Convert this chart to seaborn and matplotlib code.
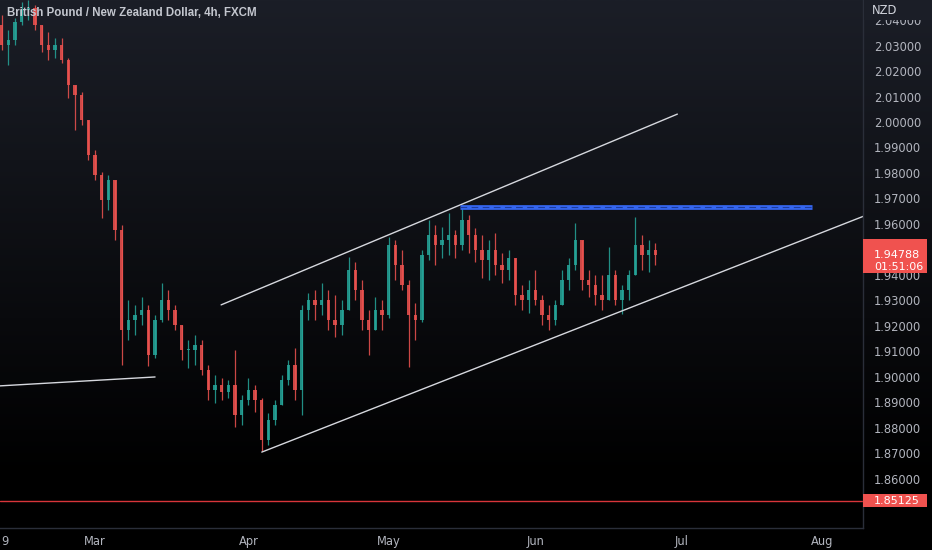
import numpy as np
import pandas as pd
import matplotlib
matplotlib.use("Agg")
import matplotlib.pyplot as plt
import matplotlib.transforms as mtransforms
from matplotlib.patches import Rectangle
import seaborn as sns

# GBPNZD, one bar per trading day (7 Feb - 28 Jun 2022)
start_day = "2022-02-07"
first_open = 2.0340
highs = [2.0381, 2.0420, 2.0420, 2.0361, 2.0408, 2.0471, 2.0479, 2.0459, 2.0381, 2.0353,
         2.0330, 2.0330, 2.0251, 2.0134, 2.0118, 2.0008, 1.9890, 1.9804, 1.9792, 1.9772,
         1.9596, 1.9301, 1.9282, 1.9313, 1.9282, 1.9242, 1.9368, 1.9340, 1.9282, 1.9203,
         1.9144, 1.9164, 1.9144, 1.9046, 1.9007, 1.8995, 1.8987, 1.9105, 1.8928, 1.8995,
         1.8968, 1.8916, 1.8858, 1.8909, 1.9007, 1.9066, 1.9113, 1.9282, 1.9329, 1.9340,
         1.9368, 1.9340, 1.9321, 1.9301, 1.9470, 1.9450, 1.9380, 1.9262, 1.9313, 1.9301,
         1.9549, 1.9537, 1.9497, 1.9380, 1.9289, 1.9497, 1.9615, 1.9596, 1.9588, 1.9643,
         1.9576, 1.9666, 1.9635, 1.9584, 1.9556, 1.9537, 1.9564, 1.9486, 1.9497, 1.9458,
         1.9360, 1.9380, 1.9419, 1.9321, 1.9282, 1.9301, 1.9419, 1.9466, 1.9604, 1.9517,
         1.9419, 1.9399, 1.9399, 1.9509, 1.9419, 1.9360, 1.9419, 1.9627, 1.9556, 1.9537,
         1.9525]
lows = [2.0302, 2.0322, 2.0283, 2.0224, 2.0302, 2.0381, 2.0400, 2.0361, 2.0275, 2.0243,
        2.0251, 2.0232, 2.0094, 1.9969, 1.9988, 1.9851, 1.9772, 1.9623, 1.9655, 1.9537,
        1.9046, 1.9144, 1.9164, 1.9203, 1.9042, 1.9074, 1.9215, 1.9223, 1.9183, 1.9066,
        1.9034, 1.9046, 1.9007, 1.8909, 1.8897, 1.8909, 1.8916, 1.8803, 1.8810, 1.8889,
        1.8861, 1.8708, 1.8732, 1.8810, 1.8889, 1.8968, 1.8909, 1.8850, 1.9223, 1.9223,
        1.9242, 1.9183, 1.9156, 1.9164, 1.9282, 1.9301, 1.9183, 1.9085, 1.9183, 1.9183,
        1.9231, 1.9380, 1.9340, 1.9038, 1.9144, 1.9215, 1.9458, 1.9439, 1.9466, 1.9478,
        1.9466, 1.9497, 1.9486, 1.9450, 1.9388, 1.9380, 1.9399, 1.9368, 1.9380, 1.9282,
        1.9262, 1.9250, 1.9282, 1.9203, 1.9183, 1.9203, 1.9282, 1.9340, 1.9419, 1.9340,
        1.9313, 1.9282, 1.9262, 1.9301, 1.9282, 1.9246, 1.9301, 1.9399, 1.9419, 1.9411,
        1.9439]
closes = [2.0361, 2.0381, 2.0302, 2.0322, 2.0393, 2.0440, 2.0448, 2.0381, 2.0302, 2.0283,
          2.0302, 2.0243, 2.0145, 2.0106, 2.0008, 1.9870, 1.9792, 1.9694, 1.9772, 1.9576,
          1.9183, 1.9223, 1.9242, 1.9262, 1.9085, 1.9223, 1.9301, 1.9262, 1.9203, 1.9105,
          1.9105, 1.9125, 1.9026, 1.8948, 1.8968, 1.8940, 1.8968, 1.8850, 1.8909, 1.8948,
          1.8909, 1.8752, 1.8830, 1.8889, 1.8987, 1.9046, 1.8948, 1.9262, 1.9301, 1.9282,
          1.9301, 1.9223, 1.9203, 1.9262, 1.9419, 1.9340, 1.9223, 1.9183, 1.9262, 1.9242,
          1.9517, 1.9439, 1.9360, 1.9242, 1.9223, 1.9478, 1.9556, 1.9517, 1.9537, 1.9556,
          1.9517, 1.9615, 1.9556, 1.9497, 1.9458, 1.9497, 1.9439, 1.9419, 1.9466, 1.9321,
          1.9301, 1.9340, 1.9301, 1.9242, 1.9223, 1.9282, 1.9380, 1.9439, 1.9537, 1.9380,
          1.9360, 1.9321, 1.9301, 1.9399, 1.9301, 1.9340, 1.9399, 1.9517, 1.9478, 1.9497,
          1.94788]

# drawings on the chart: (bar index, price) anchors
upper_channel_x = [34.9, 103.3]
upper_channel_y = [1.9282, 2.0031]
lower_channel_x = [41.0, 131.3]
lower_channel_y = [1.8704, 1.9631]
old_support_x = [1.75, 25.0]
old_support_y = [1.8964, 1.8999]
resistance_x = [70.7, 123.5]
resistance_level = 1.9666
red_level = 1.85125
last_price = 1.94788
countdown = "01:51:06"

price_ticks = np.round(np.arange(1.86, 2.045, 0.01), 2)

up_col = "#26a69a"
down_col = "#ef5350"
text_col = "#b2b5be"

sns.set_theme(style="dark")
plt.rcParams["font.family"] = ["DejaVu Sans"]

fig = plt.figure(figsize=(9.32, 5.50), dpi=100)
W, H = 932, 550

# background gradient (dark slate at the top fading to black)
bg = fig.add_axes([0, 0, 1, 1], zorder=-10)
top = np.array([27, 30, 39]) / 255
bot = np.array([0, 0, 0]) / 255
t = np.clip(np.linspace(0, 1.15, 256), 0, 1)[:, None]
grad = top * (1 - t) + bot * t
bg.imshow(grad[:, None, :], aspect="auto", extent=[0, 1, 0, 1])
bg.set_axis_off()

ax = fig.add_axes([0, (H - 528) / H, 863 / W, 528 / H])
ax.set_facecolor("none")

n = len(closes)
idx = np.arange(n)
opens = np.array([first_open] + closes[:-1])
closes_a = np.array(closes)
hi = np.maximum(np.array(highs), np.maximum(opens, closes_a))
lo = np.minimum(np.array(lows), np.minimum(opens, closes_a))
colors = np.where(closes_a >= opens, up_col, down_col)

body = closes_a - opens
body = np.where(np.abs(body) < 0.0004, np.sign(body + 1e-9) * 0.0004, body)
ax.vlines(idx, lo, hi, colors=colors, lw=0.9, alpha=0.85)
ax.bar(idx, body, bottom=opens, width=0.5, color=colors, linewidth=0, alpha=0.85)

# trend lines
line_col = "#d6d8de"
sns.lineplot(x=upper_channel_x, y=upper_channel_y, ax=ax, color=line_col, lw=1.0)
sns.lineplot(x=lower_channel_x, y=lower_channel_y, ax=ax, color=line_col, lw=1.0)
sns.lineplot(x=old_support_x, y=old_support_y, ax=ax, color=line_col, lw=1.0)

# resistance zone
ax.plot(resistance_x, [resistance_level] * 2, color="#3566f0", lw=3.4, solid_capstyle="butt")
ax.plot(resistance_x, [resistance_level] * 2, color="#1d3c9c", lw=0.8, ls=(0, (6, 4)))

# red horizontal level
ax.axhline(red_level, color="#d8353a", lw=1.0)

ax.set_xlim(1.754, 131.13)
ax.set_ylim(1.8406, 2.0479)

# time axis labels, TradingView style (index based, weekends skipped)
dates = pd.bdate_range(start_day, periods=140)
tick_pos = [2]
tick_lab = [str(dates[2].day)]
for m in range(3, 9):
    i = int(np.argmax(dates.month == m))
    tick_pos.append(i)
    tick_lab.append(dates[i].strftime("%b"))
ax.set_xticks(tick_pos)
ax.set_xticklabels(tick_lab)
ax.get_xticklabels()[0].set_horizontalalignment("left")

ax.yaxis.tick_right()
ax.set_yticks(price_ticks)
ax.set_yticklabels([f"{v:.5f}" for v in price_ticks])
ax.tick_params(axis="both", length=0, colors=text_col, labelsize=8.3)
ax.tick_params(axis="y", pad=8)
ax.tick_params(axis="x", pad=5)
ax.grid(False)

for s in ["top", "left"]:
    ax.spines[s].set_visible(False)
for s in ["right", "bottom"]:
    ax.spines[s].set_visible(True)
    ax.spines[s].set_color("#2a2e39")
    ax.spines[s].set_linewidth(1.0)

# price labels on the right scale
px_per_price = 528 / (2.0479 - 1.8406)
trans = mtransforms.blended_transform_factory(ax.transAxes, ax.transData)
box_w = 64 / 863


def price_box(y_top, y_bot, lines, ys):
    ax.add_patch(Rectangle((1.0, y_bot), box_w, y_top - y_bot, transform=trans,
                           facecolor="#f0524f", edgecolor="none", clip_on=False, zorder=5))
    for txt, yy in zip(lines, ys):
        ax.text(1.0 + 11 / 863, yy, txt, transform=trans, color="white", fontsize=8.0,
                va="center", ha="left", zorder=6, clip_on=False)


price_box(red_level + 6.5 / px_per_price, red_level - 6.5 / px_per_price,
          [f"{red_level:.5f}"], [red_level])
price_box(last_price + 16 / px_per_price, last_price - 18 / px_per_price,
          [f"{last_price:.5f}", countdown], [last_price, last_price - 12 / px_per_price])

# currency header on the price scale, masking the top half of the 2.04 label
fig.add_artist(Rectangle((864 / W, 1 - 19.5 / H), 68 / W, 19.5 / H, transform=fig.transFigure,
                         facecolor="#1b1e27", edgecolor="none", zorder=10))
fig.text(872 / W, 1 - 10 / H, "NZD", color="#d1d4dc", fontsize=8.3, va="center", ha="left",
         zorder=11)

fig.text(7 / W, 1 - 13 / H, "British Pound / New Zealand Dollar, 4h, FXCM", color="#c3c6ce",
         fontsize=8.3, fontweight="bold", family="Liberation Sans", va="center", ha="left")

fig.savefig("out.png", dpi=100)
